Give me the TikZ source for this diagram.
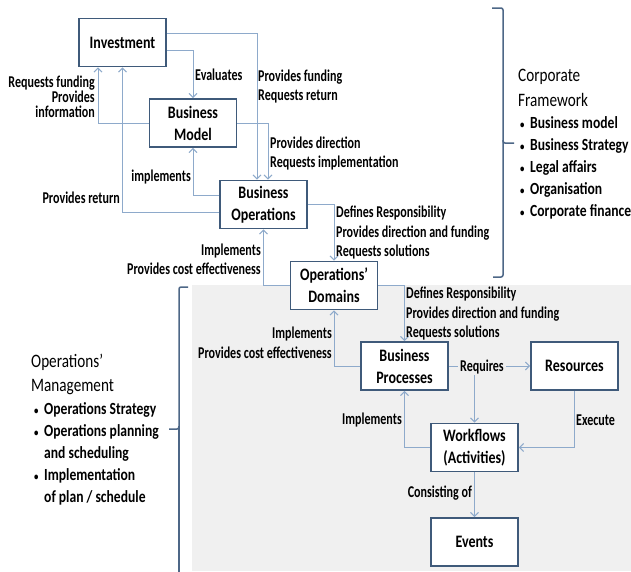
\documentclass[tikz,border=0pt]{standalone}
\usepackage{fontspec}
\setmainfont{Carlito}[FakeStretch=0.8]
\newfontfamily\lblfont{Carlito}[FakeStretch=0.73]
\usetikzlibrary{arrows.meta}
\definecolor{boxline}{HTML}{3F5A7A}
\definecolor{connline}{HTML}{8EAACB}
\definecolor{bracecol}{HTML}{4D6787}
\definecolor{opsbg}{HTML}{F0F0F0}
\tikzset{
  block/.style={draw=boxline, line width=1.8pt, fill=white, minimum width=87pt,
    minimum height=48pt, inner sep=0pt, align=center,
    font=\bfseries\fontsize{17.5}{22}\selectfont},
  conn/.style={draw=connline, line width=1pt,
    -{Straight Barb[length=4pt,width=8pt,line width=1pt]}},
  lbl/.style={inner sep=0pt, font=\lblfont\bfseries\fontsize{16.5}{19.5}\selectfont},
  lblL/.style={lbl, anchor=west, align=left},
  lblR/.style={lbl, anchor=east, align=right},
  title/.style={inner sep=0pt, anchor=west, align=left, font=\fontsize{19}{24.5}\selectfont},
  bullets/.style={inner sep=0pt, anchor=west, align=left, font=\bfseries\fontsize{17}{22}\selectfont},
  brace/.style={draw=bracecol, line width=1.5pt, rounded corners=2pt}
}
\newcommand{\bul}{\makebox[11pt][l]{\hspace{1pt}{\fontsize{11}{11}\selectfont•}}}
\begin{document}
\begin{tikzpicture}[x=1pt,y=-1pt]
\useasboundingbox (0,0) rectangle (631,571);
\fill[white] (0,0) rectangle (631,571);
% shaded operations area
\fill[opsbg] (192,285) rectangle (631,571);

% boxes
\node[block] (inv) at (122.5,42.5) {Investment};
\node[block] (bm)  at (193,123) {Business\\Model};
\node[block] (bo)  at (263.5,204.5) {Business\\Operations};
\node[block] (od)  at (334,285.5) {Operations’\\Domains};
\node[block] (bp)  at (404.5,366) {Business\\Processes};
\node[block] (res) at (574.5,366) {Resources};
\node[block] (wf)  at (474.5,447.5) {Workflows\\(Activities)};
\node[block] (ev)  at (474.5,542) {Events};

% corporate level connectors
\draw[conn] ([yshift=-7.5pt]inv.east) -| (bm.north);
\draw[conn] ([yshift=9.5pt]inv.east) -| ([xshift=-6.5pt]bo.north);
\draw[conn] (bm.east) -| ([xshift=4.5pt]bo.north);
\draw[conn] (bm.west) -| ([xshift=-24.5pt]inv.south);
\draw[conn] ([yshift=-7.5pt]bo.west) -| (inv.south);
\draw[conn] ([yshift=9.5pt]bo.west) -| (bm.south);
\draw[conn] (bo.east) -| (od.north);
\draw[conn] (od.west) -| (bo.south);

% operations level connectors
\draw[conn] (od.east) -| (bp.north);
\draw[conn] (bp.west) -| (od.south);
\coordinate (split) at (bp.east -| wf.north);
\draw[conn] (bp.east) -- (res.west);
\draw[conn] (split) -- (wf.north);
\draw[conn] (wf.west) -| (bp.south);
\draw[conn] (res.south) |- (wf.east);
\draw[conn] (wf.south) -- (ev.north);

% connector labels
\node[lblL] (lEval) at (195,75) {Evaluates};
\node[lblL] (lFund) at (258,86.5) {Provides funding\\Requests return};
\node[lblL] (lDir) at (270,153.5) {Provides direction\\Requests implementation};
\node[lblR, font=\lblfont\bfseries\fontsize{16.5}{15}\selectfont] (lReq) at (95,97) {Requests funding\\Provides\\information};
\node[lblR] (lImpl) at (191,177) {implements};
\node[lblR] (lRet) at (120,198) {Provides return};
\node[lblL] (lDef1) at (336,232.5) {Defines Responsibility\\Provides direction and funding\\Requests solutions};
\node[lblR] (lCost1) at (261,259.5) {Implements\\Provides cost effectiveness};
\node[lblL] (lDef2) at (406,313.5) {Defines Responsibility\\Provides direction and funding\\Requests solutions};
\node[lblR] (lCost2) at (332,343) {Implements\\Provides cost effectiveness};
\node[lbl, fill=opsbg, inner xsep=2pt, inner ysep=1pt] (lRequires) at (482,367) {Requires};
\node[lblR] (lImpl2) at (402,420) {Implements};
\node[lblL] (lExec) at (576,420) {Execute};
\node[lblR] (lCons) at (472,493) {Consisting of};

% corporate framework brace and list
\draw[brace] (492,8) -- (503,8) -- (503,143) -- (514,143);
\draw[brace] (503,140) -- (503,277) -- (493,277);
\node[title] (cfTitle) at (518,88) {Corporate\\Framework};
\node[bullets] (cfList) at (519,168) {\bul Business model\\\bul Business Strategy\\\bul Legal affairs\\\bul Organisation\\\bul Corporate finance};

% operations management brace and list
\draw[brace] (188,287) -- (179,287) -- (179,429) -- (169,429);
\draw[brace] (179,426) -- (179,575);
\node[title] (omTitle) at (31,374.5) {Operations’\\Management};
\node[bullets] (omList) at (33,454) {\bul Operations Strategy\\\bul Operations planning\\\hspace*{11pt}and scheduling\\\bul Implementation\\\hspace*{11pt}of plan / schedule};
\end{tikzpicture}
\end{document}
